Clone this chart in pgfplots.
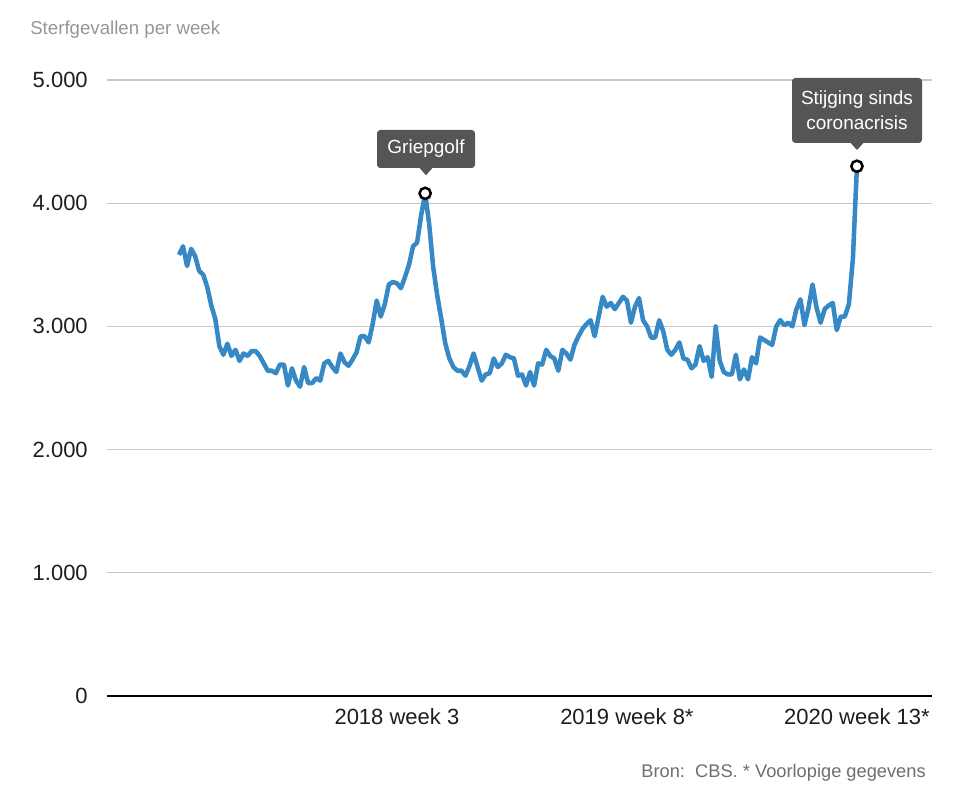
\documentclass[border=0pt]{standalone}
\usepackage{pgfplots}
\pgfplotsset{compat=1.18}
\usepackage{fontspec}
\setmainfont{Liberation Sans}
\definecolor{lineblue}{RGB}{54,137,196}
\definecolor{gridgray}{RGB}{200,200,200}
\definecolor{titlegray}{RGB}{150,150,150}
\definecolor{notegray}{RGB}{110,110,110}
\definecolor{boxgray}{RGB}{85,85,85}
\definecolor{ticktext}{RGB}{30,30,30}
\pgfplotstableread{
i v
0 3580
1 3650
2 3490
3 3630
4 3570
5 3450
6 3420
7 3320
8 3170
9 3060
10 2840
11 2770
12 2860
13 2760
14 2810
15 2720
16 2780
17 2760
18 2800
19 2800
20 2760
21 2700
22 2640
23 2640
24 2620
25 2690
26 2690
27 2520
28 2660
29 2560
30 2510
31 2670
32 2540
33 2540
34 2580
35 2560
36 2700
37 2720
38 2670
39 2630
40 2780
41 2710
42 2680
43 2730
44 2790
45 2920
46 2920
47 2870
48 3020
49 3210
50 3080
51 3180
52 3340
53 3360
54 3350
55 3310
56 3400
57 3500
58 3650
59 3680
60 3900
61 4080
62 3830
63 3480
64 3250
65 3060
66 2860
67 2740
68 2670
69 2640
70 2640
71 2600
72 2680
73 2780
74 2670
75 2560
76 2610
77 2620
78 2740
79 2670
80 2700
81 2770
82 2750
83 2740
84 2600
85 2610
86 2520
87 2630
88 2520
89 2700
90 2690
91 2810
92 2760
93 2740
94 2640
95 2810
96 2780
97 2730
98 2850
99 2920
100 2980
101 3020
102 3050
103 2920
104 3080
105 3240
106 3160
107 3190
108 3140
109 3190
110 3240
111 3210
112 3030
113 3160
114 3230
115 3050
116 3000
117 2910
118 2910
119 3050
120 2960
121 2810
122 2770
123 2810
124 2870
125 2740
126 2730
127 2660
128 2690
129 2840
130 2720
131 2750
132 2590
133 3000
134 2720
135 2630
136 2610
137 2610
138 2770
139 2570
140 2650
141 2570
142 2750
143 2700
144 2910
145 2890
146 2870
147 2850
148 3000
149 3050
150 3010
151 3030
152 3000
153 3140
154 3220
155 3010
156 3150
157 3340
158 3150
159 3030
160 3140
161 3170
162 3190
163 2970
164 3080
165 3080
166 3180
167 3550
168 4300
}\deaths
\begin{document}
\begin{tikzpicture}
\path[use as bounding box] (0,0) rectangle (718.5pt,600pt);
\begin{axis}[
  at={(80.25pt,78pt)}, anchor=south west,
  scale only axis, width=618.75pt, height=462pt,
  xmin=-17.84, xmax=186.6, ymin=0, ymax=5000,
  axis x line=bottom, axis y line=left,
  x axis line style={-, black, line width=1.1pt},
  y axis line style={draw=none},
  ytick={0,1000,2000,3000,4000,5000},
  ymajorgrids, grid style={gridgray, line width=0.8pt},
  major tick length=0pt,
  xtick={54,111,168},
  xticklabels={2018 week 3, 2019 week 8*, 2020 week 13*},
  /pgf/number format/assume math mode=true,
  /pgf/number format/1000 sep={.},
  ticklabel style={font=\fontsize{16.5}{19}\selectfont, text=ticktext},
  yticklabel style={anchor=east, inner sep=0pt, xshift=-14.25pt},
  xticklabel style={anchor=north, inner sep=0pt, yshift=-9pt},
  clip=false,
]
\addplot[lineblue, line width=3.4pt, line join=round] table[x=i, y=v] {\deaths};
\addplot[only marks, mark=*, mark size=4.2pt, mark options={fill=white, draw=black, line width=1.9pt}] coordinates {(61,4080) (168,4300)};
\end{axis}
% title
\node[anchor=base west, inner sep=0pt, text=titlegray, font=\fontsize{14}{17}\selectfont] at (22.5pt,573.75pt) {Sterfgevallen per week};
% source
\node[anchor=base east, inner sep=0pt, text=notegray, font=\fontsize{13.7}{16}\selectfont] at (694.5pt,16.5pt) {Bron:\ \ CBS. * Voorlopige gegevens};
% Griepgolf box
\fill[boxgray, rounded corners=2.5pt] (282.75pt,474pt) rectangle (356.25pt,502.5pt);
\fill[boxgray] (314.25pt,474.5pt) -- (324.75pt,474.5pt) -- (319.5pt,468.5pt) -- cycle;
\node[text=white, font=\fontsize{14.25}{17}\selectfont, inner sep=0pt] at (319.5pt,488.25pt) {Griepgolf};
% Stijging box
\fill[boxgray, rounded corners=2.5pt] (594pt,492.75pt) rectangle (691.5pt,541.5pt);
\fill[boxgray] (637.5pt,493.25pt) -- (648pt,493.25pt) -- (642.75pt,487.5pt) -- cycle;
\node[text=white, font=\fontsize{14.25}{18.5}\selectfont, inner sep=0pt, align=center] at (642.75pt,517.1pt) {Stijging sinds\\coronacrisis};
\end{tikzpicture}
\end{document}
